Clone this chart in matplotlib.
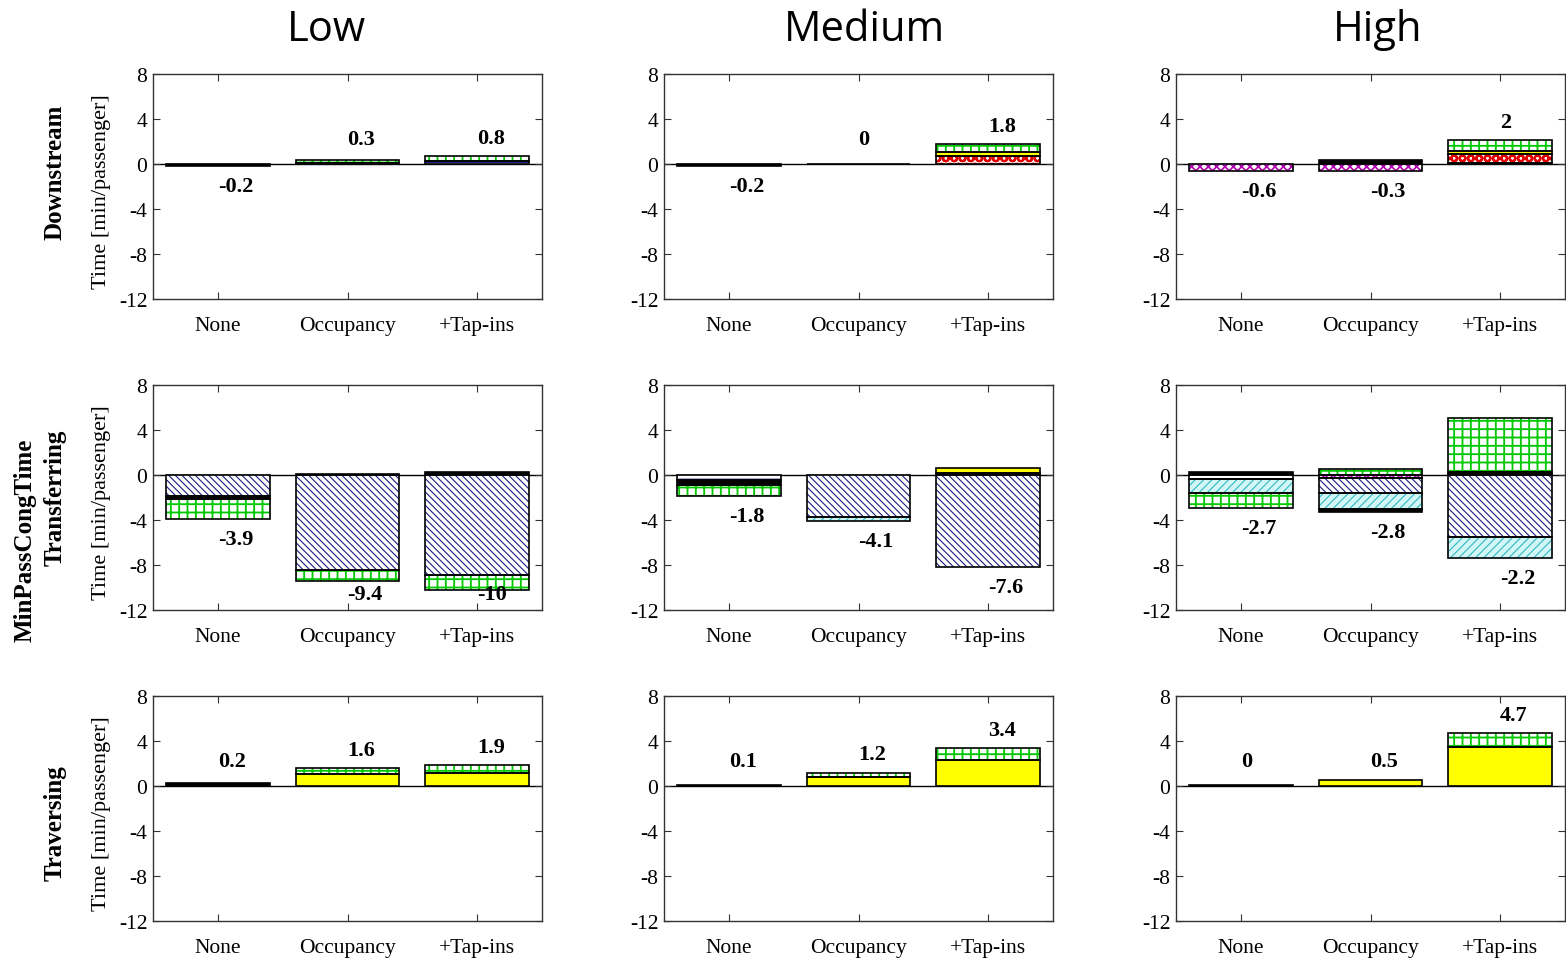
import numpy as np
import matplotlib
matplotlib.use("Agg")
import matplotlib.pyplot as plt

# ---------------- data ----------------
rows = ["Downstream", "Transferring", "Traversing"]
levels = ["Low", "Medium", "High"]
categories = ["None", "Occupancy", "+Tap-ins"]

Z = [[0, 0, 0], [0, 0, 0], [0, 0, 0]]

# stacked components, [row][level][category]; stacking order as listed below
magenta = [
    [[0, 0, 0], [0, 0, 0], [-0.6, -0.6, 0]],
    [[0, 0, 0], [0, 0, 0], [0, -0.3, 0]],
    Z,
]
navy = [
    Z,
    [[-1.9, -8.4, -8.9], [0, -3.75, -8.15], [0, -1.3, -5.5]],
    Z,
]
dashed = [
    [[0, 0, 0.3], [0, 0, 0], [0, 0, 0]],
    [[0, 0, 0], [-0.45, 0, 0], [-0.35, 0, 0]],
    Z,
]
cyan = [
    Z,
    [[0, 0, 0], [0, -0.3, 0], [-1.25, -1.4, -1.85]],
    Z,
]
black = [
    [[-0.15, 0.05, 0], [-0.2, 0.03, 0], [0, 0.35, 0.1]],
    [[-0.2, 0.1, 0.25], [-0.4, 0, 0.15], [0.25, -0.25, 0.1]],
    [[0.25, 0, 0], [0.1, 0, 0], [0.05, 0, 0]],
]
red = [
    [[0, 0, 0], [0, 0, 0.75], [0, 0, 0.8]],
    Z,
    Z,
]
yellow = [
    [[0, 0, 0], [0, 0, 0.3], [0, 0, 0.3]],
    [[0, 0, 0], [0, 0, 0.45], [0, 0, 0.2]],
    [[0, 1.1, 1.2], [0, 0.8, 2.3], [0, 0.5, 3.45]],
]
green = [
    [[0, 0.3, 0.45], [0, 0, 0.7], [0, 0, 0.95]],
    [[-1.8, -1.05, -1.3], [-1.0, 0, 0], [-1.35, 0.5, 4.8]],
    [[0, 0.5, 0.7], [0, 0.4, 1.1], [0, 0, 1.25]],
]
totals = [
    [[-0.2, 0.3, 0.8], [-0.2, 0, 1.8], [-0.6, -0.3, 2]],
    [[-3.9, -9.4, -10], [-1.8, -4.1, -7.6], [-2.7, -2.8, -2.2]],
    [[0.2, 1.6, 1.9], [0.1, 1.2, 3.4], [0, 0.5, 4.7]],
]

# ---------------- styles ----------------
series = [
    (magenta, dict(face="white", hatch="xxxx", hc="#b000b0", hlw=1.2)),
    (navy, dict(face="white", hatch="\\" * 5, hc="#1c1c80", hlw=0.8)),
    (dashed, dict(face="white", hatch="--", hc="#1c1c80", hlw=0.8)),
    (cyan, dict(face="#d2f6f6", hatch="////", hc="#30b8c0", hlw=0.8)),
    (black, dict(face="black", hatch=None, hc="black", hlw=1.0)),
    (red, dict(face="white", hatch="OO", hc="#e00000", hlw=1.6)),
    (yellow, dict(face="#ffff00", hatch=None, hc="#ffff00", hlw=1.0)),
    (green, dict(face="white", hatch="++", hc="#00c800", hlw=1.3)),
]

SERIF = ["Liberation Serif", "DejaVu Serif"]
plt.rcParams["font.family"] = SERIF
plt.rcParams["axes.unicode_minus"] = False

fig = plt.figure(figsize=(15.66, 9.62), dpi=100)

W, H = 1566.0, 962.0
col_left = [153, 664, 1176]
row_top = [75, 386, 697]
ax_w, ax_h = 389, 225

x = np.arange(1, 4)
for r in range(3):
    for c in range(3):
        left = col_left[c] / W
        bottom = 1 - (row_top[r] + ax_h) / H
        ax = fig.add_axes([left, bottom, ax_w / W, ax_h / H])
        ax.axhline(0, color="black", lw=1.0, zorder=1)
        pos = np.zeros(3)
        neg = np.zeros(3)
        for data, st in series:
            vals = np.array(data[r][c], dtype=float)
            m = vals != 0
            if not m.any():
                continue
            bots = np.where(vals > 0, pos, neg)
            with plt.rc_context({"hatch.linewidth": st["hlw"]}):
                bars = ax.bar(x[m], vals[m], bottom=bots[m], width=0.8,
                              color=st["face"], hatch=st["hatch"],
                              edgecolor=st["hc"], linewidth=0, zorder=2)
            for b in bars:
                if hasattr(b, "set_hatch_linewidth"):
                    b.set_hatch_linewidth(st["hlw"])
            ax.bar(x[m], vals[m], bottom=bots[m], width=0.8, fill=False,
                   edgecolor="black", linewidth=1.2, zorder=3)
            pos = np.where(vals > 0, pos + vals, pos)
            neg = np.where(vals < 0, neg + vals, neg)
        for i in range(3):
            t = totals[r][c][i]
            if t >= 0:
                yy = max(pos[i] + 1.6, 2.2)
            else:
                yy = min(max(neg[i] - 1.8, -10.6), -1.9)
            ax.text(x[i], yy, f"{t:g}", ha="left", va="center",
                    fontsize=16, fontweight="bold", zorder=5)
        ax.set_xlim(0.5, 3.5)
        ax.set_ylim(-12, 8)
        ax.set_yticks([-12, -8, -4, 0, 4, 8])
        ax.set_xticks(x)
        ax.set_xticklabels(categories)
        ax.tick_params(axis="both", direction="in", top=True, right=True,
                       length=5, width=0.8, labelsize=15.5, color="#333333")
        ax.tick_params(axis="x", pad=12)
        ax.tick_params(axis="y", pad=4)
        for sp in ax.spines.values():
            sp.set_color("#333333")
            sp.set_linewidth(1.0)
        if c == 0:
            ax.set_ylabel("Time [min/passenger]", fontsize=16)
            ax.yaxis.set_label_coords(-0.107, 0.48)

# column titles
for lvl, xc in zip(levels, [326, 864, 1378]):
    fig.text(xc / W, 1 - 30 / H, lvl, ha="center", va="center",
             fontsize=30, family=["Open Sans", "DejaVu Sans"])

# row labels
fig.text(55 / W, 1 - 172 / H, rows[0], rotation=90, ha="center", va="center",
         fontsize=18, fontweight="bold")
fig.text(25 / W, 1 - 540 / H, "MinPassCongTime", rotation=90, ha="center",
         va="center", fontsize=18, fontweight="bold")
fig.text(55 / W, 1 - 498 / H, rows[1], rotation=90, ha="center", va="center",
         fontsize=18, fontweight="bold")
fig.text(55 / W, 1 - 823 / H, rows[2], rotation=90, ha="center", va="center",
         fontsize=18, fontweight="bold")

fig.savefig("out.png", dpi=100)
